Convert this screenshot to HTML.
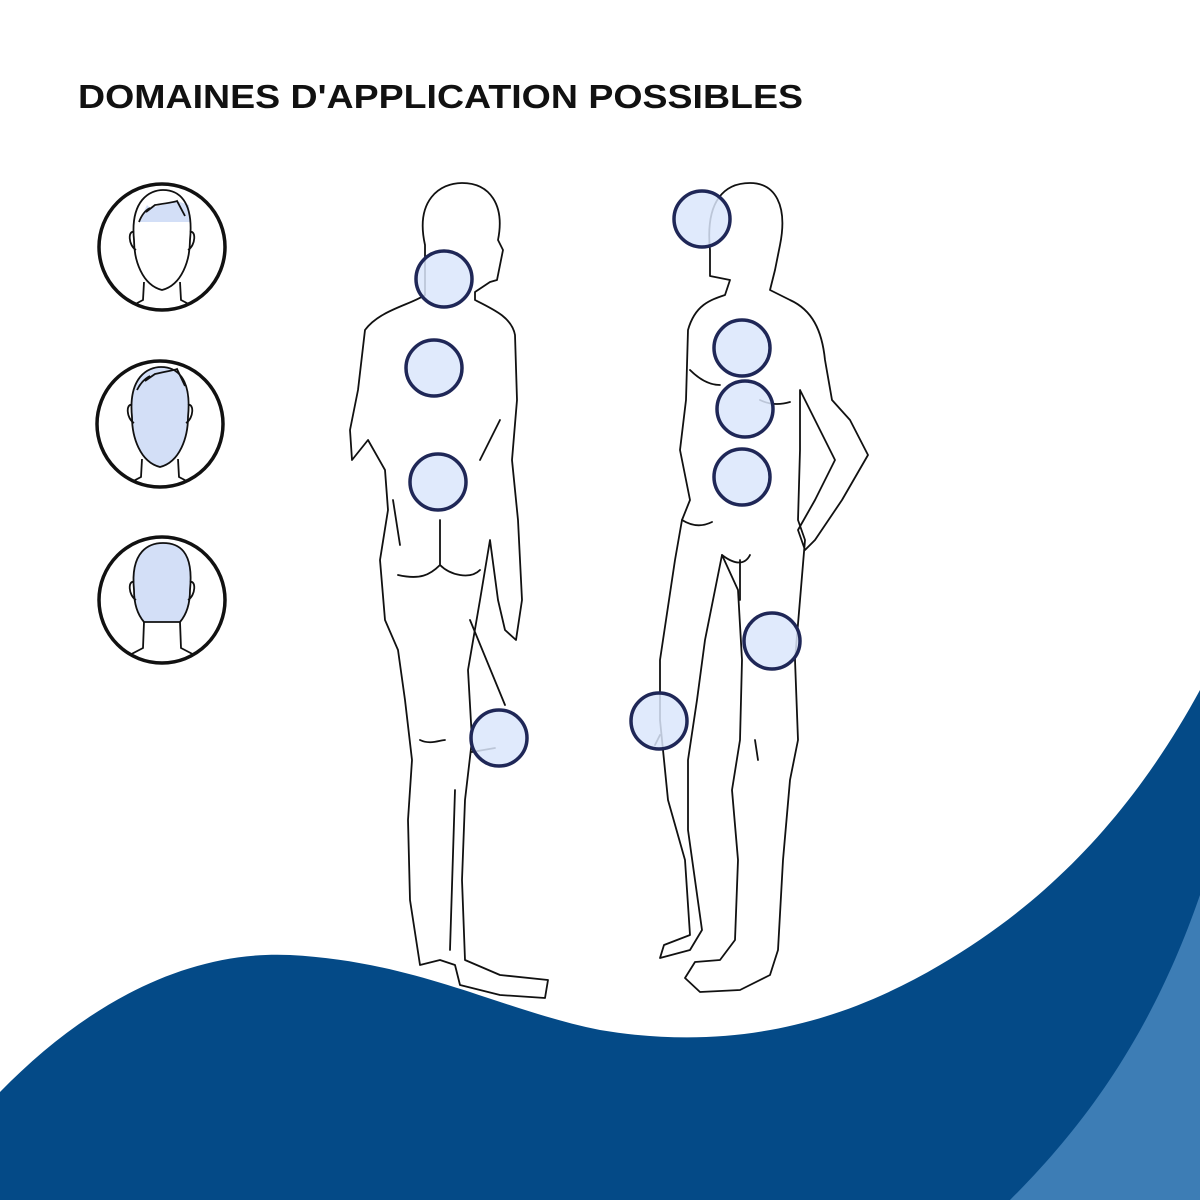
<!DOCTYPE html>
<html><head><meta charset="utf-8"><style>
html,body{margin:0;padding:0;background:#fff;}
svg{display:block}
</style></head><body>
<svg width="1200" height="1200" viewBox="0 0 1200 1200" xmlns="http://www.w3.org/2000/svg">
<rect width="1200" height="1200" fill="#fff"/>
<text x="78" y="108" font-family="Liberation Sans, sans-serif" font-weight="bold" font-size="33" fill="#111" textLength="725" lengthAdjust="spacingAndGlyphs">DOMAINES D'APPLICATION POSSIBLES</text>

<defs>
<clipPath id="c1"><circle cx="162" cy="247" r="62"/></clipPath>
<clipPath id="c2"><circle cx="160" cy="424" r="62"/></clipPath>
<clipPath id="c3"><circle cx="162" cy="600" r="62"/></clipPath>
</defs>
<g fill="none" stroke="#111" stroke-width="1.8">
 <g clip-path="url(#c1)">
  <path d="M139,222 L190,222 L189,205 L177,201 L150,208 L147,205 L139,222Z" fill="#d3dff7" stroke="none"/>
  <path d="M134,240 C130,200 150,190 163,190 C178,190 194,200 190,240 C190,260 182,285 162,290 C142,285 134,260 134,240Z"/>
  <path d="M139,222 C142,214 146,210 150,208 L146,212 L155,205 C168,203 175,202 177,201 L185,216"/>
  <path d="M134,232 C128,230 128,245 136,250 M190,232 C196,230 196,245 188,250"/>
  <path d="M144,282 L143,300 L120,312 M180,282 L181,300 L204,312"/>
 </g>
 <circle cx="162" cy="247" r="63" stroke-width="3.5"/>
 <g clip-path="url(#c2)">
  <path d="M132,417 C128,377 148,367 161,367 C176,367 192,377 188,417 C188,437 180,462 160,467 C140,462 132,437 132,417Z" fill="#d3dff7"/>
  <path d="M137,390 C141,382 146,378 150,376 L145,381 L155,374 C168,371 175,370 177,369 L185,386"/>
  <path d="M132,405 C126,403 126,418 134,423 M188,405 C194,403 194,418 186,423"/>
  <path d="M142,459 L141,477 L118,489 M178,459 L179,477 L202,489"/>
 </g>
 <circle cx="160" cy="424" r="63" stroke-width="3.5"/>
 <g clip-path="url(#c3)">
  <path d="M134,590 C130,550 150,543 163,543 C178,543 194,550 190,590 C190,605 186,615 180,622 L144,622 C138,615 134,605 134,590Z" fill="#d3dff7"/>
  <path d="M134,582 C128,580 128,595 136,600 M190,582 C196,580 196,595 188,600"/>
  <path d="M144,622 L143,648 L120,660 M180,622 L181,648 L204,660"/>
 </g>
 <circle cx="162" cy="600" r="63" stroke-width="3.5"/>
</g>

<g fill="none" stroke="#111" stroke-width="1.8" stroke-linejoin="round" stroke-linecap="round">
 <path d="M425,245 C415,200 440,183 462,183 C490,183 505,205 498,240 L503,250 L497,280 L490,282 L475,292 L475,300 C495,310 512,318 515,335 L517,400 L512,460 L518,520 L522,600 L516,640 L505,630 L498,600 L490,540 L480,600 L468,670 L472,740 L465,800 L462,880 L465,960 L500,975 L548,980 L545,998 L500,995 L460,985 L455,965 L440,960 L420,965 L410,900 L408,820 L412,760 L405,700 L398,650 L385,620 L380,560 L388,510 L385,470 L368,440 L352,460 L350,430 L358,390 L365,330 C380,310 410,305 425,295 Z"/>
 <path d="M398,575 C420,580 430,575 440,565 C450,575 470,580 480,570 M440,520 L440,565 M470,620 L505,705 M420,740 C430,745 440,740 445,740 M455,790 L450,950 M472,752 L495,748 M393,500 L400,545 M500,420 L480,460"/>
</g>

<g fill="none" stroke="#111" stroke-width="1.8" stroke-linejoin="round" stroke-linecap="round">
 <path d="M710,250 C705,200 725,183 750,183 C775,183 788,205 780,245 L775,270 L770,290 L790,300 C812,310 822,330 825,360 L832,400 L850,420 L868,455 L842,500 L815,540 L805,550 L798,530 L815,500 L835,460 L820,430 L800,390 L800,450 L798,520 L805,540 L800,600 L795,660 L798,740 L790,780 L783,860 L778,950 L770,975 L740,990 L700,992 L685,978 L695,962 L720,960 L735,940 L738,860 L732,790 L740,740 L742,660 L738,590 L722,555 L705,640 L697,700 L688,760 L688,830 L702,930 L690,950 L660,958 L664,945 L690,935 L685,860 L668,800 L660,720 L660,660 L675,560 L682,520 L690,500 L680,450 L686,400 L688,330 C695,305 710,300 725,295 L730,280 L710,276 Z"/>
 <path d="M690,370 C700,380 710,385 720,385 M760,400 C770,405 780,405 790,402 M682,520 C690,525 700,528 712,522 M722,555 C735,565 745,565 750,555 M740,560 L740,600 M755,740 L758,760 M660,735 L655,745"/>
</g>

<g fill="#dbe6fb" fill-opacity="0.85" stroke="#1f2757" stroke-width="3.5">
 <circle cx="444" cy="279" r="28"/>
 <circle cx="434" cy="368" r="28"/>
 <circle cx="438" cy="482" r="28"/>
 <circle cx="499" cy="738" r="28"/>
 <circle cx="702" cy="219" r="28"/>
 <circle cx="742" cy="348" r="28"/>
 <circle cx="745" cy="409" r="28"/>
 <circle cx="742" cy="477" r="28"/>
 <circle cx="772" cy="641" r="28"/>
 <circle cx="659" cy="721" r="28"/>
</g>

<path d="M0,1092 C80,1010 180,950 290,955 C420,962 500,1010 600,1030 C720,1050 830,1030 940,965 C1060,895 1140,800 1200,690 L1200,1200 L0,1200 Z" fill="#044a87"/>
<path d="M1010,1200 C1080,1130 1150,1040 1200,895 L1200,1200 Z" fill="#3d7db5"/>
</svg>
</body></html>
